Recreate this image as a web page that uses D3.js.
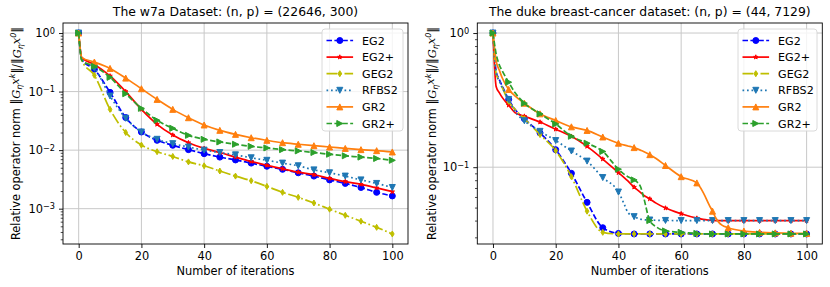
<!DOCTYPE html>
<html lang="en">
<head>
<meta charset="UTF-8">
<title>Relative operator norm</title>
<script src="https://cdn.jsdelivr.net/npm/d3@7"></script>
<style>
body { margin: 0; background: #fff; }
svg { font-family: "DejaVu Sans", sans-serif; }
</style>
</head>
<body>
<script>
// ---- data ----
var seriesNames = ["EG2", "EG2+", "GEG2", "RFBS2", "GR2", "GR2+"];
var xTicks = [0, 20, 40, 60, 80, 100];

// w7a panel
var itersW7a = [0, 1, 5, 10, 15, 20, 25, 30, 35, 40, 45, 50, 55, 60, 65, 70, 75, 80, 85, 90, 95, 100];
var w7aEG2   = [1, 0.35, 0.24, 0.097, 0.036, 0.0204, 0.0147, 0.0121, 0.0102, 0.0087, 0.0076, 0.0068, 0.0060, 0.0053, 0.0047, 0.0041, 0.0036, 0.0031, 0.0027, 0.0023, 0.0019, 0.00165];
var w7aEG2p  = [1, 0.38, 0.29, 0.185, 0.10, 0.0497, 0.0276, 0.0181, 0.0134, 0.0107, 0.0091, 0.0076, 0.0064, 0.0055, 0.0048, 0.0042, 0.0038, 0.0033, 0.0029, 0.0026, 0.00226, 0.00195];
var w7aGEG2  = [1, 0.34, 0.19, 0.0497, 0.020, 0.0122, 0.0094, 0.0078, 0.0063, 0.0054, 0.0044, 0.0036, 0.0030, 0.0024, 0.0019, 0.00156, 0.00125, 0.00098, 0.00077, 0.00061, 0.00048, 0.00037];
var w7aRFBS2 = [1, 0.35, 0.25, 0.084, 0.035, 0.0204, 0.0153, 0.0129, 0.0113, 0.0100, 0.0091, 0.0083, 0.0074, 0.0067, 0.0060, 0.0054, 0.0046, 0.0041, 0.0036, 0.0031, 0.0027, 0.0023];
var w7aGR2   = [1, 0.38, 0.32, 0.249, 0.17, 0.112, 0.0736, 0.0497, 0.0358, 0.0269, 0.0218, 0.0186, 0.0163, 0.0147, 0.0134, 0.0126, 0.0119, 0.0113, 0.0107, 0.0102, 0.0098, 0.0093];
var w7aGR2p  = [1, 0.34, 0.27, 0.175, 0.092, 0.0517, 0.0323, 0.0236, 0.0179, 0.0153, 0.0138, 0.0126, 0.0116, 0.0109, 0.0102, 0.0097, 0.0091, 0.0085, 0.0080, 0.0076, 0.0072, 0.0067];

// duke panel
var itersDuke = [0, 1, 2, 3, 5, 7, 10, 15, 20, 25, 30, 35, 40, 42, 43, 45, 47, 48, 50, 52, 55, 60, 65, 67, 69, 70, 71, 72, 73, 75, 80, 85, 90, 95, 100];
var dukeEG2   = [1, 0.52, 0.45, 0.40, 0.32, 0.27, 0.23, 0.18, 0.135, 0.09, 0.0547, 0.0354, 0.0321, 0.0319, 0.0319, 0.0318, 0.0318, 0.0318, 0.0318, 0.0318, 0.0318, 0.0318, 0.0318, 0.0318, 0.0318, 0.0318, 0.0318, 0.0318, 0.0318, 0.0318, 0.0318, 0.0318, 0.0318, 0.0318, 0.0318];
var dukeEG2p  = [1, 0.40, 0.36, 0.33, 0.29, 0.255, 0.24, 0.217, 0.192, 0.17, 0.143, 0.115, 0.091, 0.083, 0.079, 0.071, 0.065, 0.062, 0.058, 0.054, 0.0496, 0.045, 0.0417, 0.0408, 0.0403, 0.0401, 0.040, 0.040, 0.040, 0.040, 0.040, 0.040, 0.040, 0.040, 0.040];
var dukeGEG2  = [1, 0.50, 0.44, 0.39, 0.31, 0.27, 0.23, 0.175, 0.133, 0.085, 0.047, 0.0327, 0.0318, 0.0318, 0.0318, 0.0318, 0.0318, 0.0318, 0.0318, 0.0318, 0.0318, 0.0318, 0.0318, 0.0318, 0.0318, 0.0318, 0.0318, 0.0318, 0.0318, 0.0318, 0.0318, 0.0318, 0.0318, 0.0318, 0.0318];
var dukeRFBS2 = [1, 0.50, 0.44, 0.39, 0.32, 0.26, 0.222, 0.185, 0.158, 0.132, 0.111, 0.0837, 0.0653, 0.052, 0.046, 0.0428, 0.041, 0.0406, 0.0404, 0.0402, 0.0401, 0.040, 0.040, 0.040, 0.040, 0.040, 0.040, 0.040, 0.040, 0.040, 0.040, 0.040, 0.040, 0.040, 0.040];
var dukeGR2   = [1, 0.62, 0.53, 0.46, 0.38, 0.34, 0.30, 0.25, 0.223, 0.20, 0.188, 0.168, 0.151, 0.146, 0.144, 0.14, 0.134, 0.131, 0.124, 0.116, 0.103, 0.085, 0.0764, 0.065, 0.052, 0.047, 0.042, 0.0388, 0.037, 0.0354, 0.0334, 0.0327, 0.0324, 0.0322, 0.0321];
var dukeGR2p  = [1, 0.70, 0.58, 0.52, 0.43, 0.36, 0.30, 0.25, 0.21, 0.17, 0.151, 0.131, 0.0966, 0.088, 0.085, 0.0804, 0.072, 0.060, 0.040, 0.036, 0.0335, 0.0327, 0.0321, 0.0319, 0.0318, 0.0318, 0.0318, 0.0318, 0.0318, 0.0318, 0.0318, 0.0318, 0.0318, 0.0318, 0.0318];

// ---- styles ----
var width = 830, height = 287;
var fontSize = 11.4;
var styles = {
    "EG2":   {color: "#0000ff", dash: "5.5,2.4",           marker: "circle"},
    "EG2+":  {color: "#ff0000", dash: null,                marker: "star"},
    "GEG2":  {color: "#bfbf00", dash: "10.9,2.7,1.7,2.7",  marker: "thin_diamond"},
    "RFBS2": {color: "#1f77b4", dash: "1.7,2.8",           marker: "tri_down"},
    "GR2":   {color: "#ff7f0e", dash: null,                marker: "tri_up"},
    "GR2+":  {color: "#2ca02c", dash: "5.5,2.4",           marker: "tri_right"}
};

function markerPath(type) {
    var h = 3.0;
    if (type === "circle") return d3.symbol().type(d3.symbolCircle).size(Math.PI * h * h)();
    if (type === "star") return d3.symbol().type(d3.symbolStar).size(6)();
    if (type === "thin_diamond") return "M0," + (-h) + "L" + (0.6 * h) + ",0L0," + h + "L" + (-0.6 * h) + ",0Z";
    if (type === "tri_down") return "M0," + h + "L" + (-h) + "," + (-h) + "L" + h + "," + (-h) + "Z";
    if (type === "tri_up") return "M0," + (-h) + "L" + (-h) + "," + h + "L" + h + "," + h + "Z";
    if (type === "tri_right") return "M" + h + ",0L" + (-h) + "," + (-h) + "L" + (-h) + "," + h + "Z";
}

var svg = d3.select("body").append("svg")
    .attr("width", width)
    .attr("height", height);

function drawPanel(p) {
    var left = p.left, right = p.right, top = 23, bottom = 244;

    var all = [];
    p.values.forEach(function (v) { all = all.concat(v); });
    var lmin = Math.log10(d3.min(all)), lmax = Math.log10(d3.max(all));
    var pad = (lmax - lmin) * 0.05;

    var x = d3.scaleLinear().domain([-5, 105]).range([left, right]);
    var y = d3.scaleLog().domain([Math.pow(10, lmin - pad), Math.pow(10, lmax + pad)]).range([bottom, top]);

    var g = svg.append("g");

    // grid
    var majors = [];
    for (var k = -5; k <= 1; k++) {
        var v = Math.pow(10, k);
        if (v >= y.domain()[0] && v <= y.domain()[1]) majors.push(v);
    }
    var minors = [];
    for (var k2 = -5; k2 <= 1; k2++) {
        for (var m = 2; m <= 9; m++) {
            var mv = m * Math.pow(10, k2);
            if (mv >= y.domain()[0] && mv <= y.domain()[1]) minors.push(mv);
        }
    }
    g.selectAll(".vgrid").data(xTicks).enter().append("line")
        .attr("x1", function (d) { return x(d); }).attr("x2", function (d) { return x(d); })
        .attr("y1", top).attr("y2", bottom)
        .attr("stroke", "#c8c8c8").attr("stroke-width", 1);
    g.selectAll(".hgrid").data(majors).enter().append("line")
        .attr("x1", left).attr("x2", right)
        .attr("y1", function (d) { return y(d); }).attr("y2", function (d) { return y(d); })
        .attr("stroke", "#c8c8c8").attr("stroke-width", 1);

    // clip
    var clipId = "clip" + p.id;
    svg.append("defs").append("clipPath").attr("id", clipId)
        .append("rect").attr("x", left).attr("y", top).attr("width", right - left).attr("height", bottom - top);

    var plot = g.append("g").attr("clip-path", "url(#" + clipId + ")");
    var line = d3.line()
        .x(function (d) { return x(d[0]); })
        .y(function (d) { return y(d[1]); })
        .curve(d3.curveMonotoneX);

    seriesNames.forEach(function (name, i) {
        var st = styles[name];
        var pts = p.iters.map(function (it, j) { return [it, p.values[i][j]]; });
        plot.append("path")
            .attr("d", line(pts))
            .attr("fill", "none")
            .attr("stroke", st.color)
            .attr("stroke-width", 1.7)
            .attr("stroke-dasharray", st.dash);
        plot.selectAll(".m" + i)
            .data(pts.filter(function (d) { return d[0] % 5 === 0; }))
            .enter().append("path")
            .attr("d", markerPath(st.marker))
            .attr("transform", function (d) { return "translate(" + x(d[0]) + "," + y(d[1]) + ")"; })
            .attr("fill", st.color)
            .attr("stroke", st.color)
            .attr("stroke-width", 1);
    });

    // spines
    g.append("rect")
        .attr("x", left).attr("y", top)
        .attr("width", right - left).attr("height", bottom - top)
        .attr("fill", "none").attr("stroke", "#000").attr("stroke-width", 0.9);

    // x axis
    var gx = g.append("g").attr("transform", "translate(0," + bottom + ")")
        .call(d3.axisBottom(x).tickValues(xTicks).tickSize(4).tickPadding(4));
    gx.select(".domain").remove();
    gx.selectAll("text").attr("font-size", fontSize).attr("font-family", "DejaVu Sans").attr("fill", "#000");
    gx.selectAll("line").attr("stroke-width", 0.9);

    // y axis
    var gy = g.append("g").attr("transform", "translate(" + left + ",0)")
        .call(d3.axisLeft(y).tickValues(majors).tickSize(4).tickPadding(4));
    gy.select(".domain").remove();
    gy.selectAll("line").attr("stroke-width", 0.9);
    gy.selectAll(".tick text")
        .attr("font-size", fontSize).attr("font-family", "DejaVu Sans").attr("fill", "#000")
        .each(function (d) {
            var t = d3.select(this).text(null);
            var e = Math.round(Math.log10(d));
            t.append("tspan").text("10");
            t.append("tspan").attr("dy", "-0.45em").attr("font-size", "0.72em")
                .text(e < 0 ? "\u2212" + (-e) : String(e));
        });
    var gym = g.append("g").attr("transform", "translate(" + left + ",0)")
        .call(d3.axisLeft(y).tickValues(minors).tickSize(2.3).tickFormat(""));
    gym.select(".domain").remove();
    gym.selectAll("line").attr("stroke-width", 0.7);

    // title and labels
    g.append("text")
        .attr("x", (left + right) / 2).attr("y", 16)
        .attr("text-anchor", "middle").attr("font-size", 12.4)
        .text(p.title);
    g.append("text")
        .attr("x", (left + right) / 2).attr("y", 275)
        .attr("text-anchor", "middle").attr("font-size", fontSize)
        .text("Number of iterations");

    var yl = g.append("text")
        .attr("transform", "translate(" + p.ylabelX + "," + ((top + bottom) / 2) + ") rotate(-90)")
        .attr("text-anchor", "middle").attr("font-size", fontSize);
    yl.append("tspan").text("Relative operator norm \u2016");
    yl.append("tspan").attr("font-style", "italic").attr("font-family", "DejaVu Serif").text("G");
    yl.append("tspan").attr("font-style", "italic").attr("font-size", "0.7em").attr("dy", "0.3em").text("\u03b7");
    yl.append("tspan").attr("font-style", "italic").attr("font-family", "DejaVu Serif").attr("dy", "-0.3em").text("x");
    yl.append("tspan").attr("font-style", "italic").attr("font-size", "0.7em").attr("dy", "-0.45em").text("k");
    yl.append("tspan").attr("dy", "0.45em").text("\u2016/\u2016");
    yl.append("tspan").attr("font-style", "italic").attr("font-family", "DejaVu Serif").text("G");
    yl.append("tspan").attr("font-style", "italic").attr("font-size", "0.7em").attr("dy", "0.3em").text("\u03b7");
    yl.append("tspan").attr("font-style", "italic").attr("font-family", "DejaVu Serif").attr("dy", "-0.3em").text("x");
    yl.append("tspan").attr("font-style", "italic").attr("font-size", "0.7em").attr("dy", "-0.45em").text("0");
    yl.append("tspan").attr("dy", "0.45em").text("\u2016");

    // legend
    var lg = g.append("g");
    lg.append("rect")
        .attr("x", p.legendX).attr("y", 29)
        .attr("width", p.legendW).attr("height", 102)
        .attr("rx", 3)
        .attr("fill", "#fff").attr("fill-opacity", 0.8)
        .attr("stroke", "#d6d6d6").attr("stroke-width", 0.9);
    seriesNames.forEach(function (name, i) {
        var st = styles[name];
        var ry = 40.5 + i * 16.6;
        var x0 = p.legendX + 4.5, x1 = x0 + 26.6;
        lg.append("line")
            .attr("x1", x0).attr("x2", x1).attr("y1", ry).attr("y2", ry)
            .attr("stroke", st.color).attr("stroke-width", 1.7)
            .attr("stroke-dasharray", st.dash);
        lg.append("path")
            .attr("d", markerPath(st.marker))
            .attr("transform", "translate(" + ((x0 + x1) / 2) + "," + ry + ")")
            .attr("fill", st.color).attr("stroke", st.color).attr("stroke-width", 1);
        lg.append("text")
            .attr("x", x1 + 9).attr("y", ry + 4)
            .attr("font-size", 11.1)
            .text(name);
    });
}

drawPanel({
    id: "w7a", left: 63, right: 408, ylabelX: 20, legendX: 322, legendW: 81,
    title: "The w7a Dataset: (n, p) = (22646, 300)",
    iters: itersW7a,
    values: [w7aEG2, w7aEG2p, w7aGEG2, w7aRFBS2, w7aGR2, w7aGR2p]
});
drawPanel({
    id: "duke", left: 477.3, right: 822.3, ylabelX: 435.5, legendX: 738, legendW: 79,
    title: "The duke breast-cancer dataset: (n, p) = (44, 7129)",
    iters: itersDuke,
    values: [dukeEG2, dukeEG2p, dukeGEG2, dukeRFBS2, dukeGR2, dukeGR2p]
});
</script>
</body>
</html>
